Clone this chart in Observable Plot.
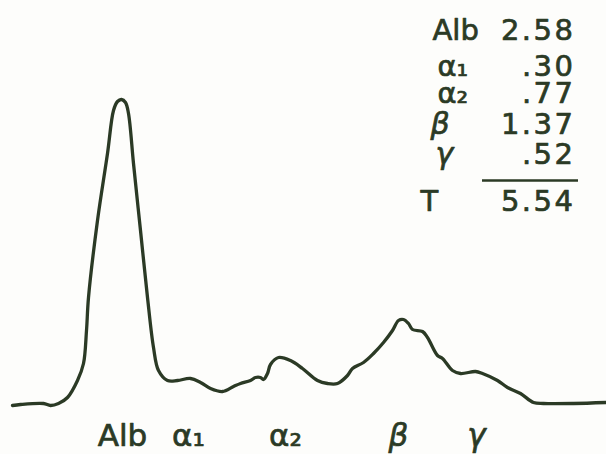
<!DOCTYPE html>
<html><head><meta charset="utf-8">
<script src="https://cdn.jsdelivr.net/npm/d3@7"></script>
<script src="https://cdn.jsdelivr.net/npm/@observablehq/plot@0.6"></script>
<style>
body{margin:0;background:#fdfdfb}
#chart svg{background:#fdfdfb}
.nums text{letter-spacing:2.5px}
</style>
</head><body><div id="chart"></div>
<script>
// Densitometer trace: migration position vs. optical density
const position = [12,20,43,50,58,67,77,83,86,88,97,107,113,117,121,125,128,133,140,147,153,158,167,177,190,200,210,222,233,240,250,255,260,263,267,270,278,290,302,317,327,337,347,352,363,373,383,392,398,403,408,412,422,427,437,442,452,460,475,482,497,507,520,533,543,573,606];
const density  = [49,50,51,49,51,57,74,91,124,157,234,301,344,353,355,352,341,291,224,157,107,84,74,74,76,72,66,63,68,71,74,77,77,75,81,90,97,94,86,74,71,71,79,86,92,101,112,124,134,135,131,125,123,117,99,96,84,81,83,81,74,67,61,52,51,51,52];

// Fraction labels under peaks
const fractions = ["Alb","α₁","α₂","β","γ"];
const fractionPos = [122,188,285,398,476];

// Values table
const tableLabels = ["Alb","α₁","α₂","β","γ","T"];
const tableValues = ["2.58",".30",".77","1.37",".52","5.54"];

const trace = position.map((x,i)=>({x, y: density[i]}));
const ink = "#2b3a25";
const italic = new Set(["β","γ"]);

// layout of the table (annotation placement)
const rowBase = [39,75,102,133,163,210];
const labelLeft = [432,437,437,430,435,420];

const fr = fractions.map((t,i)=>({t, x: fractionPos[i]}));
const tl = tableLabels.map((t,i)=>({t, x: labelLeft[i], y: 454-rowBase[i]}));
const tv = tableValues.map((t,i)=>({t, y: 454-rowBase[i]}));
const txt = {stroke: ink, strokeWidth: 0.7, fill: ink};

const plot = Plot.plot({
  width: 606, height: 454,
  margin: 0,
  x: {domain:[0,606], range:[0,606], axis:null},
  y: {domain:[0,454], range:[454,0], axis:null},
  style: {fontFamily:"DejaVu Sans", color: ink, background:"#fdfdfb"},
  marks: [
    Plot.line(trace, {x:"x", y:"y", stroke: ink, strokeWidth: 3.3, curve:"catmull-rom"}),
    Plot.text(fr.filter(d=>!italic.has(d.t)), {x:"x", text:"t", frameAnchor:"bottom", dy:-9, lineAnchor:"bottom", fontSize:31, ...txt}),
    Plot.text(fr.filter(d=>italic.has(d.t)), {x:"x", text:"t", frameAnchor:"bottom", dy:-9, lineAnchor:"bottom", fontSize:31, fontStyle:"italic", ...txt}),
    Plot.text(tl.filter(d=>!italic.has(d.t)), {x:"x", y:"y", text:"t", textAnchor:"start", lineAnchor:"bottom", fontSize:29, ...txt}),
    Plot.text(tl.filter(d=>italic.has(d.t)), {x:"x", y:"y", text:"t", textAnchor:"start", lineAnchor:"bottom", fontSize:30, fontStyle:"italic", ...txt}),
    Plot.text(tv, {x:()=>575, y:"y", text:"t", textAnchor:"end", lineAnchor:"bottom", fontSize:29, className:"nums", ...txt}),
    Plot.ruleY([454-180], {x1:482, x2:578, stroke: ink, strokeWidth: 2.5})
  ]
});
document.getElementById("chart").appendChild(plot);
</script>
</body></html>
